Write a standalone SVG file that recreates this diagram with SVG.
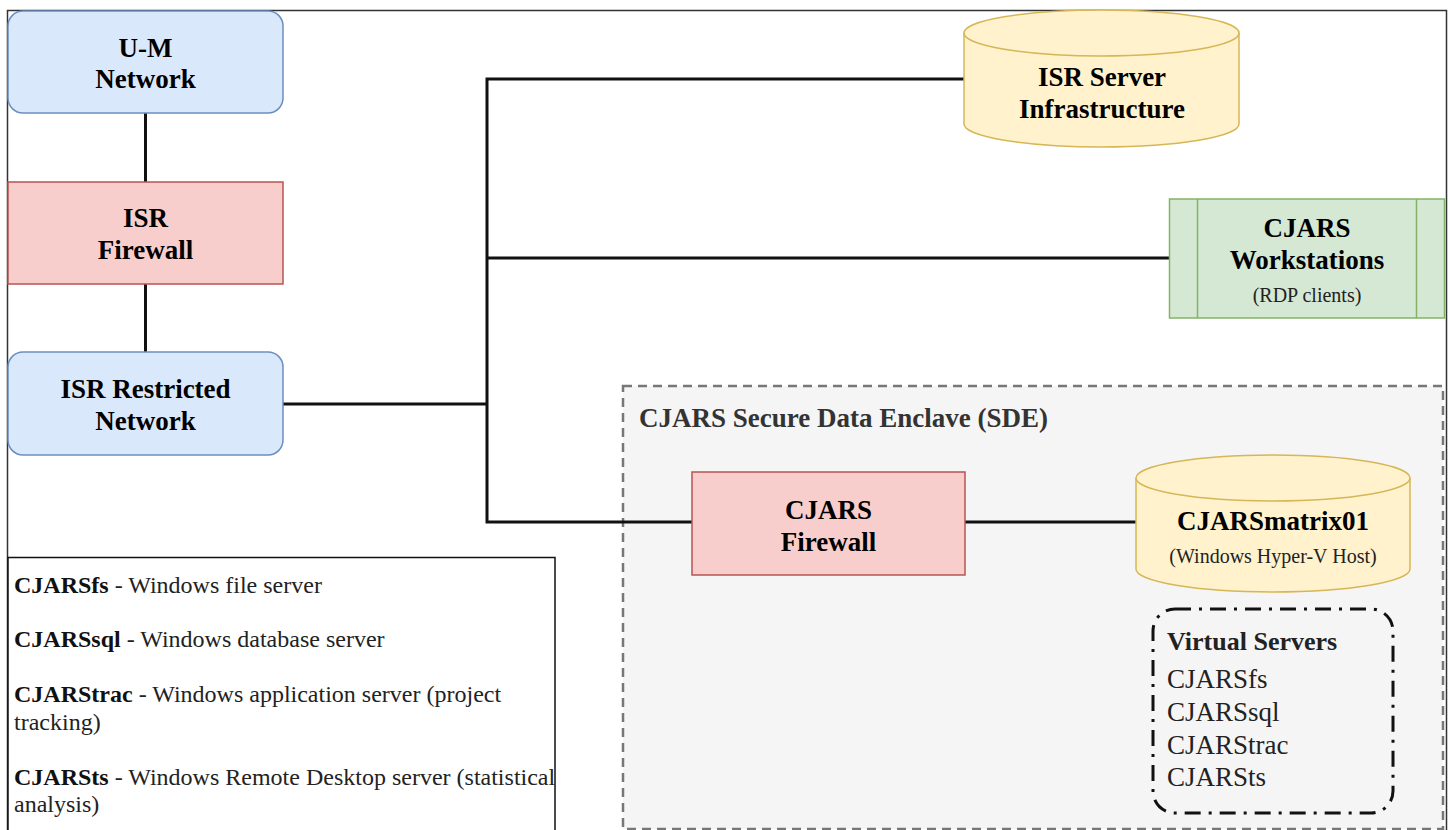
<svg xmlns="http://www.w3.org/2000/svg" width="1448" height="830" viewBox="0 0 1448 830">
<style>
text{font-family:"Liberation Serif","Times New Roman",serif;fill:#000}
.t{font-size:27px;font-weight:bold;text-anchor:middle}
.s{font-size:20px;text-anchor:middle;fill:#222}
.blue{fill:#dae8fc;stroke:#6c8ebf;stroke-width:1.5}
.red{fill:#f8cecc;stroke:#b85450;stroke-width:1.5}
.green{fill:#d5e8d4;stroke:#82b366;stroke-width:1.5}
.cyl{fill:#fff2cc;stroke:#d6b656;stroke-width:1.5}
.conn{fill:none;stroke:#111;stroke-width:3}
.leg{font-size:24px;fill:#222}
.vs{font-size:27px;fill:#222}
</style>
<rect width="1448" height="830" fill="#fff"/>
<path d="M7.5,830 V10.5 H1446.5 V830" fill="none" stroke="#333" stroke-width="1.5"/>

<g id="enclave">
<rect x="623" y="386" width="820" height="443" fill="#f5f5f5" stroke="#777" stroke-width="2.5" stroke-dasharray="9 6"/>
<text x="639" y="427" style="font-size:27px;font-weight:bold;fill:#333">CJARS Secure Data Enclave (SDE)</text>
</g>

<g id="connectors">
<path class="conn" d="M145.5,113 V182"/>
<path class="conn" d="M145.5,284 V352"/>
<path class="conn" d="M283,404 H487"/>
<path class="conn" d="M964,79 H487 V522 H692"/>
<path class="conn" d="M487,258 H1169"/>
<path class="conn" d="M965,522 H1136"/>
</g>

<g id="um-network">
<rect class="blue" x="8" y="11" width="275" height="102" rx="15"/>
<text class="t" x="145.5" y="56.5">U-M</text>
<text class="t" x="145.5" y="88">Network</text>
</g>

<g id="isr-firewall">
<rect class="red" x="8" y="182" width="275" height="102"/>
<text class="t" x="145.5" y="227">ISR</text>
<text class="t" x="145.5" y="259">Firewall</text>
</g>

<g id="isr-restricted">
<rect class="blue" x="8" y="352" width="275" height="103" rx="15"/>
<text class="t" x="145.5" y="398">ISR Restricted</text>
<text class="t" x="145.5" y="430">Network</text>
</g>

<g id="isr-server">
<path class="cyl" d="M964,33 A137.5,23 0 0,1 1239,33 V124 A137.5,23 0 0,1 964,124 Z"/>
<path class="cyl" d="M964,33 A137.5,23 0 0,0 1239,33" fill="none"/>
<text class="t" x="1102" y="86">ISR Server</text>
<text class="t" x="1102" y="117.5">Infrastructure</text>
</g>

<g id="workstations">
<rect class="green" x="1169.5" y="199" width="275" height="119"/>
<path d="M1197.5,199 V318 M1416.5,199 V318" stroke="#82b366" stroke-width="1.5"/>
<text class="t" x="1307" y="237">CJARS</text>
<text class="t" x="1307" y="269">Workstations</text>
<text class="s" x="1307" y="302">(RDP clients)</text>
</g>

<g id="cjars-firewall">
<rect class="red" x="692" y="472" width="273" height="103"/>
<text class="t" x="828.5" y="519">CJARS</text>
<text class="t" x="828.5" y="551">Firewall</text>
</g>

<g id="cjarsmatrix01">
<path class="cyl" d="M1136,478 A137,23 0 0,1 1410,478 V569 A137,23 0 0,1 1136,569 Z"/>
<path class="cyl" d="M1136,478 A137,23 0 0,0 1410,478" fill="none"/>
<text class="t" x="1273" y="530">CJARSmatrix01</text>
<text class="s" x="1273" y="563">(Windows Hyper-V Host)</text>
</g>

<g id="virtual-servers">
<rect x="1153" y="609" width="240" height="204" rx="22" fill="none" stroke="#111" stroke-width="3" stroke-dasharray="16 8 3 8"/>
<text x="1167" y="650" style="font-size:26px;font-weight:bold;fill:#222">Virtual Servers</text>
<text class="vs" x="1167" y="688">CJARSfs</text>
<text class="vs" x="1167" y="721">CJARSsql</text>
<text class="vs" x="1167" y="754">CJARStrac</text>
<text class="vs" x="1167" y="786">CJARSts</text>
</g>

<g id="legend">
<rect x="8" y="557.5" width="547" height="290" fill="#fff" stroke="#111" stroke-width="1.5"/>
<text class="leg" x="14" y="593"><tspan font-weight="bold" fill="#111">CJARSfs</tspan> - Windows file server</text>
<text class="leg" x="14" y="647"><tspan font-weight="bold" fill="#111">CJARSsql</tspan> - Windows database server</text>
<text class="leg" x="14" y="702"><tspan font-weight="bold" fill="#111">CJARStrac</tspan> - Windows application server (project</text>
<text class="leg" x="14" y="730">tracking)</text>
<text class="leg" x="14" y="785"><tspan font-weight="bold" fill="#111">CJARSts</tspan> - Windows Remote Desktop server (statistical</text>
<text class="leg" x="14" y="812">analysis)</text>
</g>
</svg>
